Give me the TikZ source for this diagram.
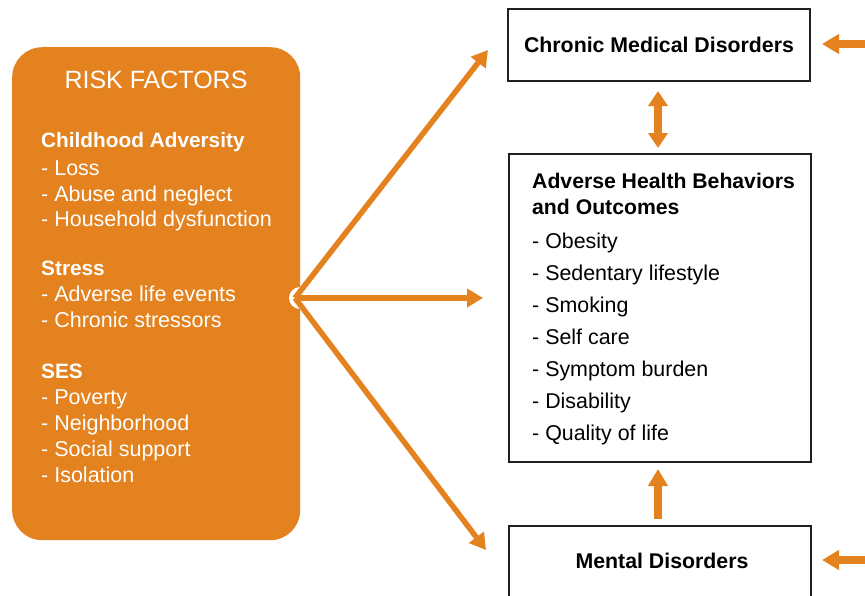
\documentclass[tikz,border=0pt]{standalone}
\usepackage{fontspec}
\setmainfont{Liberation Sans}
\usetikzlibrary{arrows.meta}
\definecolor{rorange}{HTML}{E3821F}
\definecolor{rdark}{HTML}{231F20}
\tikzset{
  txt/.style={font=\fontsize{21.5}{25}\selectfont, text=white, anchor=base west, inner sep=0pt},
  btxt/.style={txt, font=\fontsize{20.8}{25}\selectfont\bfseries},
  rtxt/.style={font=\fontsize{21.4}{25}\selectfont, text=black, anchor=base west, inner sep=0pt},
  rbtxt/.style={rtxt, font=\fontsize{21.2}{25}\selectfont\bfseries},
  box/.style={draw=rdark, line width=2pt, fill=white, inner sep=0pt},
  thin arrow/.style={draw=rorange, line width=5.5pt, -{Triangle[length=16pt,width=18pt]}},
  fat arrow/.style={draw=rorange, line width=8pt, -{Triangle[length=17pt,width=19pt]}},
  fat double/.style={draw=rorange, line width=8pt, {Triangle[length=15pt,width=19pt]}-{Triangle[length=15pt,width=19pt]}},
}
\begin{document}
\begin{tikzpicture}[x=1pt,y=-1pt]
\useasboundingbox (0,0) rectangle (865,595);
% risk factor panel
\node[fill=rorange, rounded corners=30pt, minimum width=288pt, minimum height=493pt, inner sep=0pt, anchor=north west] (risk) at (12,47) {};
\node[font=\fontsize{25}{29}\selectfont, text=white, inner sep=0pt] (title) at (156,80) {RISK FACTORS};
\foreach \t/\y/\s [count=\i] in {
  Childhood Adversity/140/btxt, - Loss/168/txt, - Abuse and neglect/194/txt, - Household dysfunction/219/txt,
  Stress/268/btxt, - Adverse life events/294/txt, - Chronic stressors/320/txt,
  SES/371/btxt, - Poverty/397/txt, - Neighborhood/423/txt, - Social support/449/txt, - Isolation/475/txt}
  \node[\s] (L\i) at (41,\y+7.5) {\t};
% branch notch
\fill[white] (300,298) circle (11pt);
\coordinate (src) at (295,298);
% boxes
\node[box, minimum width=302pt, minimum height=72pt, font=\fontsize{21.3}{25}\selectfont\bfseries] (chronic) at (659,45) {Chronic Medical Disorders};
\node[box, minimum width=302pt, minimum height=308pt, anchor=north west] (adverse) at (508,153) {};
\node[box, minimum width=302pt, minimum height=100pt, anchor=north west] (mental) at (508,525) {};
\node[font=\fontsize{21.3}{25}\selectfont\bfseries, inner sep=0pt] (mentaltext) at (662,561) {Mental Disorders};
\foreach \t/\y/\s [count=\i] in {
  Adverse Health Behaviors/181/rbtxt, and Outcomes/207/rbtxt,
  - Obesity/241/rtxt, - Sedentary lifestyle/273/rtxt, - Smoking/305/rtxt, - Self care/337/rtxt,
  - Symptom burden/369/rtxt, - Disability/401/rtxt, - Quality of life/433/rtxt}
  \node[\s] (R\i) at (532,\y+7.5) {\t};
% connectors
\coordinate (topend) at (488,50);
\coordinate (midend) at (483,298);
\coordinate (botend) at (486,550);
\draw[thin arrow] (src) -- (topend);
\draw[thin arrow] (src) -- (midend);
\draw[thin arrow] (src) -- (botend);
\draw[fat double, shorten <=9pt, shorten >=5pt] (chronic.south -| 658,0) -- (adverse.north -| 658,0);
\draw[fat arrow, shorten <=6pt, shorten >=6pt] (mental.north -| 658,0) -- (adverse.south -| 658,0);
\coordinate (in1) at (866,44);
\coordinate (in1end) at (822,44);
\coordinate (in2) at (866,560);
\coordinate (in2end) at (822,560);
\draw[fat arrow] (in1) -- (in1end);
\draw[fat arrow] (in2) -- (in2end);
\end{tikzpicture}
\end{document}
